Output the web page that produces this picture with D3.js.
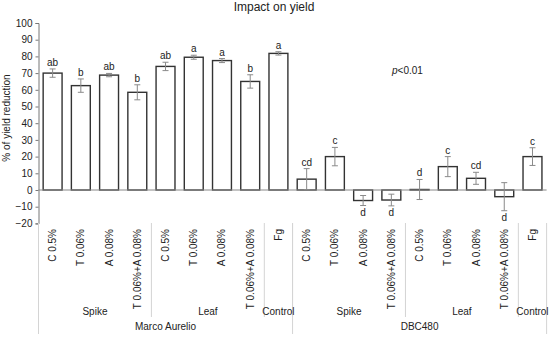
<!DOCTYPE html>
<html>
<head>
<meta charset="utf-8">
<script src="https://cdn.jsdelivr.net/npm/d3@7"></script>
<style>
  body { margin: 0; background: #fff; }
  text { font-family: "Liberation Sans", Arial, sans-serif; fill: #222; }
</style>
</head>
<body>
<svg id="chart" width="550" height="337"></svg>
<script>
// treatment labels, one per bar
const treatments = [
  "C 0.5%", "T 0.06%", "A 0.08%", "T 0.06%+A 0.08%",
  "C 0.5%", "T 0.06%", "A 0.08%", "T 0.06%+A 0.08%", "Fg",
  "C 0.5%", "T 0.06%", "A 0.08%", "T 0.06%+A 0.08%",
  "C 0.5%", "T 0.06%", "A 0.08%", "T 0.06%+A 0.08%", "Fg"
];
const yieldReduction = [70, 62.5, 68.8, 58.5, 74, 79.5, 77.5, 65, 81.8,
                        6.5, 20, -6.3, -6, 0.3, 14, 7, -4, 20];
const stdErr = [2.5, 4, 1, 4.5, 2.5, 1.2, 1.2, 4, 1,
                6.3, 5.5, 3, 3.5, 6, 6, 3.6, 8.4, 5.3];
const letters = ["ab", "b", "ab", "b", "ab", "a", "a", "b", "a",
                 "cd", "c", "d", "d", "d", "c", "cd", "d", "c"];
// organ groups: [label, first index, last index]
const organGroups = [["Spike", 0, 3], ["Leaf", 4, 7], ["Control", 8, 8],
                     ["Spike", 9, 12], ["Leaf", 13, 16], ["Control", 17, 17]];
const cultivars = [["Marco Aurelio", 0, 8], ["DBC480", 9, 17]];
const yTicks = [-20, -10, 0, 10, 20, 30, 40, 50, 60, 70, 80, 90, 100];

const svg = d3.select("#chart");

const x = d3.scaleBand()
  .domain(d3.range(treatments.length))
  .range([38.5, 546.6])
  .paddingInner(0.33)
  .paddingOuter(0.165);

const y = d3.scaleLinear().domain([-20, 100]).range([223.4, 23]);

// title
svg.append("text")
  .attr("x", 274).attr("y", 11)
  .attr("text-anchor", "middle")
  .style("font-size", "12px")
  .text("Impact on yield");

// y axis
const yAxis = svg.append("g")
  .attr("transform", "translate(38.5,0)")
  .call(d3.axisLeft(y).tickValues(yTicks).tickSize(3).tickPadding(3));
yAxis.select(".domain").attr("stroke", "#777");
yAxis.selectAll(".tick line").attr("stroke", "#777");
yAxis.selectAll(".tick text")
  .style("font-size", "10px")
  .style("font-family", "Liberation Sans, Arial, sans-serif")
  .attr("fill", "#222");

svg.append("text")
  .attr("transform", "translate(10,118) rotate(-90)")
  .attr("text-anchor", "middle")
  .style("font-size", "10px")
  .text("% of yield reduction");

// bars
const barG = svg.append("g");
barG.selectAll("rect")
  .data(yieldReduction)
  .enter().append("rect")
  .attr("x", (d, i) => x(i))
  .attr("width", x.bandwidth())
  .attr("y", d => y(Math.max(0, d)))
  .attr("height", d => Math.abs(y(d) - y(0)))
  .attr("fill", "#fff")
  .attr("stroke", "#333")
  .attr("stroke-width", 1.4);

// zero line
svg.append("line")
  .attr("x1", 38.5).attr("x2", 546.6)
  .attr("y1", y(0)).attr("y2", y(0))
  .attr("stroke", "#888").attr("stroke-width", 1);

// error bars
const errG = svg.append("g").attr("stroke", "#8a8a8a").attr("stroke-width", 1);
yieldReduction.forEach((v, i) => {
  const cx = x(i) + x.bandwidth() / 2;
  const top = y(v + stdErr[i]), bot = y(v - stdErr[i]);
  errG.append("line").attr("x1", cx).attr("x2", cx).attr("y1", top).attr("y2", bot);
  errG.append("line").attr("x1", cx - 3).attr("x2", cx + 3).attr("y1", top).attr("y2", top);
  errG.append("line").attr("x1", cx - 3).attr("x2", cx + 3).attr("y1", bot).attr("y2", bot);
});

// significance letters
svg.append("g").selectAll("text")
  .data(letters)
  .enter().append("text")
  .attr("x", (d, i) => x(i) + x.bandwidth() / 2)
  .attr("y", (d, i) => yieldReduction[i] >= 0
    ? y(yieldReduction[i] + stdErr[i]) - 3
    : y(yieldReduction[i] - stdErr[i]) + 10)
  .attr("text-anchor", "middle")
  .style("font-size", "10px")
  .text(d => d);

svg.append("text")
  .attr("x", 392).attr("y", 74)
  .style("font-size", "10px")
  .html('<tspan font-style="italic">p</tspan>&lt;0.01');

// category labels (rotated)
svg.append("g").selectAll("text")
  .data(treatments)
  .enter().append("text")
  .attr("transform", (d, i) => `translate(${x(i) + x.bandwidth() / 2 + 3.5},229) rotate(-90)`)
  .attr("text-anchor", "end")
  .style("font-size", "10px")
  .text(d => d);

// group separators
const sepG = svg.append("g").attr("stroke", "#d4d4d4").attr("stroke-width", 1);
const edge = i => x(i) - x.step() * x.paddingInner() / 2;
organGroups.forEach(g => {
  sepG.append("line")
    .attr("x1", edge(g[1])).attr("x2", edge(g[1]))
    .attr("y1", 223).attr("y2", 317);
});
cultivars.forEach(g => {
  sepG.append("line")
    .attr("x1", edge(g[1])).attr("x2", edge(g[1]))
    .attr("y1", 223).attr("y2", 334);
});
sepG.append("line")
  .attr("x1", 546.6).attr("x2", 546.6)
  .attr("y1", 223).attr("y2", 334);

const mid = (a, b) => (x(a) + x(b) + x.bandwidth()) / 2;
svg.append("g").selectAll("text")
  .data(organGroups)
  .enter().append("text")
  .attr("x", d => mid(d[1], d[2]))
  .attr("y", 315)
  .attr("text-anchor", "middle")
  .style("font-size", "10px")
  .text(d => d[0]);

svg.append("g").selectAll("text")
  .data(cultivars)
  .enter().append("text")
  .attr("x", d => mid(d[1], d[2]))
  .attr("y", 330)
  .attr("text-anchor", "middle")
  .style("font-size", "10px")
  .text(d => d[0]);
</script>
</body>
</html>
